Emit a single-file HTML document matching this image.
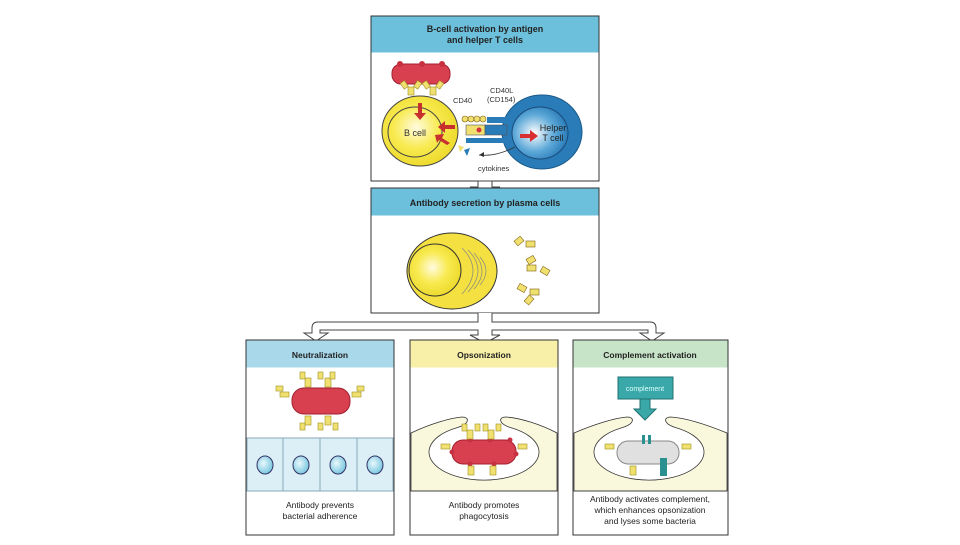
<!DOCTYPE html>
<html><head><meta charset="utf-8"><style>
body{margin:0;background:#fff;width:960px;height:540px;overflow:hidden}
svg text{font-family:"Liberation Sans",sans-serif}
</style></head><body>
<svg width="960" height="540" viewBox="0 0 960 540" xmlns="http://www.w3.org/2000/svg">
<defs>
<radialGradient id="yg" cx="0.45" cy="0.45" r="0.6"><stop offset="0" stop-color="#fffbe0"/><stop offset="0.5" stop-color="#f8ea50"/><stop offset="1" stop-color="#ecd828"/></radialGradient>
<radialGradient id="bg" cx="0.4" cy="0.5" r="0.6"><stop offset="0" stop-color="#ffffff"/><stop offset="0.6" stop-color="#5ca8d8"/><stop offset="1" stop-color="#2a7cb8"/></radialGradient>
<radialGradient id="cg" cx="0.4" cy="0.4" r="0.6"><stop offset="0" stop-color="#e8f8fc"/><stop offset="1" stop-color="#7cc8e0"/></radialGradient>
<g id="ab"><rect x="-3" y="-10" width="6" height="8" fill="#f0e070" stroke="#a09020" stroke-width="0.6"/><rect x="-9" y="-16" width="5" height="7" fill="#f0e070" stroke="#a09020" stroke-width="0.6" transform="rotate(-35 -6 -12)"/><rect x="4" y="-16" width="5" height="7" fill="#f0e070" stroke="#a09020" stroke-width="0.6" transform="rotate(35 6 -12)"/></g>
</defs>
<!-- top box -->
<rect x="371" y="16" width="228" height="165" fill="#fff" stroke="#333" stroke-width="1"/>
<rect x="371.5" y="16.5" width="227" height="36" fill="#6cc0dc"/>
<text x="485" y="32" font-size="9" font-weight="bold" text-anchor="middle" fill="#222">B-cell activation by antigen</text>
<text x="485" y="43" font-size="9" font-weight="bold" text-anchor="middle" fill="#222">and helper T cells</text>
<rect x="392" y="64" width="58" height="20" rx="9" fill="#d84050" stroke="#a02030"/>
<circle cx="400" cy="64" r="3" fill="#c83040"/><circle cx="422" cy="64" r="3" fill="#c83040"/><circle cx="442" cy="64" r="3" fill="#c83040"/>
<use href="#ab" x="411" y="97"/><use href="#ab" x="433" y="97"/>
<ellipse cx="420" cy="131" rx="38" ry="35" fill="url(#yg)" stroke="#444"/>
<ellipse cx="415" cy="132" rx="27" ry="25" fill="none" stroke="#444"/>
<text x="404" y="136" font-size="9" fill="#333">B cell</text>
<path d="M418 103 l0 10 l-4 0 l6 7 l6 -7 l-4 0 l0 -10z" fill="#c83030"/>
<path d="M455 125 l-10 0 l0 -4 l-7 6 l7 6 l0 -4 l10 0z" fill="#c83030"/>
<path d="M450 143 l-8 -5 l2 -4 l-9 1 l2 8 l2 -3 l8 5z" fill="#c83030"/>
<ellipse cx="542" cy="132" rx="40" ry="37" fill="#2a7cb8" stroke="#1a5a8a"/>
<ellipse cx="540" cy="133" rx="28" ry="26" fill="url(#bg)" stroke="#1a4a7a"/>
<text x="553" y="131" font-size="9" fill="#222" text-anchor="middle">Helper</text>
<text x="553" y="141" font-size="9" fill="#222" text-anchor="middle">T cell</text>
<path d="M520 134 h10 v-4 l8 6 l-8 6 v-4 h-10z" fill="#d83030"/>
<g fill="#f0e070" stroke="#806010" stroke-width="0.6"><circle cx="465" cy="119" r="3"/><circle cx="471" cy="119" r="3"/><circle cx="477" cy="119" r="3"/><circle cx="483" cy="119" r="3"/></g>
<rect x="487" y="117" width="20" height="6" fill="#2a7cb8"/>
<rect x="466" y="125" width="19" height="10" fill="#f0e070" stroke="#555" stroke-width="0.6"/>
<rect x="485" y="125" width="22" height="10" fill="#2a7cb8" stroke="#555" stroke-width="0.6"/>
<circle cx="479" cy="130" r="2.5" fill="#d03040"/>
<rect x="466" y="138" width="40" height="5" fill="#2a7cb8"/>
<path d="M464 150 l6 -2 l-3 8z" fill="#2a7cb8"/><path d="M458 145 l6 2 l-4 5z" fill="#f0e070"/>
<text x="453" y="103" font-size="7.5" fill="#333">CD40</text>
<text x="490" y="93" font-size="7.5" fill="#333">CD40L</text>
<text x="487" y="102" font-size="7.5" fill="#333">(CD154)</text>
<path d="M515 147 q-20 10 -36 8" fill="none" stroke="#333" stroke-width="0.8"/><path d="M479 155 l5 -3 l0 5z" fill="#333"/>
<text x="478" y="171" font-size="7.5" fill="#333">cytokines</text>
<!-- down arrow -->
<path d="M478 181 v6 h-8 l15 8 l15 -8 h-8 v-6z" fill="#fff" stroke="#444"/>
<!-- second box -->
<rect x="371" y="188" width="228" height="125" fill="#fff" stroke="#333"/>
<rect x="371.5" y="188.5" width="227" height="27" fill="#6cc0dc"/>
<text x="485" y="206" font-size="9" font-weight="bold" text-anchor="middle" fill="#222">Antibody secretion by plasma cells</text>
<ellipse cx="452" cy="271" rx="45" ry="38" fill="#f4e040" stroke="#333"/>
<ellipse cx="435" cy="270" rx="26" ry="26" fill="url(#yg)" stroke="#333"/>
<g fill="none" stroke="#888" stroke-width="0.7"><path d="M462 248 q22 22 0 46"/><path d="M468 250 q20 20 0 42"/><path d="M474 253 q16 18 0 36"/><path d="M480 257 q12 14 0 28"/></g>
<g fill="#f0e070" stroke="#806010" stroke-width="0.6">
<rect x="515" y="238" width="8" height="6" transform="rotate(-40 519 241)"/><rect x="526" y="241" width="9" height="6"/>
<rect x="527" y="257" width="8" height="6" transform="rotate(-30 531 260)"/><rect x="527" y="265" width="9" height="6"/><rect x="541" y="268" width="8" height="6" transform="rotate(30 545 271)"/>
<rect x="518" y="285" width="8" height="6" transform="rotate(30 522 288)"/><rect x="530" y="289" width="9" height="6"/><rect x="525" y="297" width="8" height="6" transform="rotate(-50 529 300)"/>
</g>
<!-- connectors -->
<path d="M478 313 v9 h-160 q-6 0 -6 6 v5 h-8 l12 8 l12 -8 h-8 v-3 h158 v5 h-8 l15 8 l15 -8 h-8 v-5 h156 v3 h-8 l12 8 l12 -8 h-8 v-5 q0 -6 -6 -6 h-158 v-9" fill="#fff" stroke="#444"/>
<!-- panels -->
<g stroke="#333">
<rect x="246" y="340" width="148" height="195" fill="#fff"/>
<rect x="410" y="340" width="148" height="195" fill="#fff"/>
<rect x="573" y="340" width="155" height="195" fill="#fff"/>
</g>
<rect x="246.5" y="340.5" width="147" height="27" fill="#a8d8ea"/>
<rect x="410.5" y="340.5" width="147" height="27" fill="#f8f0a8"/>
<rect x="573.5" y="340.5" width="154" height="27" fill="#c8e4c8"/>
<g font-size="8.5" font-weight="bold" text-anchor="middle" fill="#222">
<text x="320" y="358">Neutralization</text><text x="484" y="358">Opsonization</text><text x="650" y="358">Complement activation</text></g>
<!-- neutralization -->
<rect x="292" y="388" width="58" height="26" rx="12" fill="#d84050" stroke="#a02030"/>
<g fill="#f0e070" stroke="#a09020" stroke-width="0.6">
<rect x="305" y="378" width="6" height="9"/><rect x="325" y="378" width="6" height="9"/><rect x="300" y="372" width="5" height="7"/><rect x="318" y="372" width="5" height="7"/><rect x="330" y="372" width="5" height="7"/>
<rect x="305" y="416" width="6" height="9"/><rect x="325" y="416" width="6" height="9"/><rect x="300" y="423" width="5" height="7"/><rect x="318" y="423" width="5" height="7"/><rect x="333" y="423" width="5" height="7"/>
<rect x="280" y="392" width="9" height="5"/><rect x="276" y="386" width="7" height="5"/><rect x="352" y="392" width="9" height="5"/><rect x="357" y="386" width="7" height="5"/></g>
<g fill="#dceef6" stroke="#8ab">
<rect x="247" y="438" width="36" height="53"/><rect x="283" y="438" width="37" height="53"/><rect x="320" y="438" width="37" height="53"/><rect x="357" y="438" width="36" height="53"/></g>
<g fill="url(#cg)" stroke="#336"><ellipse cx="265" cy="465" rx="8" ry="9"/><ellipse cx="301" cy="465" rx="8" ry="9"/><ellipse cx="338" cy="465" rx="8" ry="9"/><ellipse cx="375" cy="465" rx="8" ry="9"/></g>
<!-- opsonization -->
<path d="M411 433 C430 424 450 418 462 417 C470 417 470 424 456 428 A55 28 0 1 0 512 428 C498 424 498 417 506 417 C520 418 540 424 557 433 V491 H411 Z" fill="#faf8dc" stroke="#333" stroke-width="0.8"/>
<line x1="411" y1="491" x2="557" y2="491" stroke="#333" stroke-width="0.8"/>
<rect x="452" y="440" width="64" height="24" rx="11" fill="#d84050" stroke="#a02030"/>
<g fill="#c83040"><circle cx="452" cy="452" r="2.5"/><circle cx="470" cy="440" r="2.5"/><circle cx="490" cy="440" r="2.5"/><circle cx="510" cy="440" r="2.5"/><circle cx="516" cy="454" r="2.5"/><circle cx="470" cy="464" r="2.5"/><circle cx="494" cy="464" r="2.5"/></g>
<g fill="#f0e070" stroke="#a09020" stroke-width="0.6"><rect x="467" y="430" width="6" height="9"/><rect x="488" y="430" width="6" height="9"/><rect x="462" y="424" width="5" height="7"/><rect x="475" y="424" width="5" height="7"/><rect x="483" y="424" width="5" height="7"/><rect x="496" y="424" width="5" height="7"/><rect x="468" y="466" width="6" height="9"/><rect x="490" y="466" width="6" height="9"/><rect x="441" y="444" width="9" height="5"/><rect x="518" y="444" width="9" height="5"/></g>
<!-- complement -->
<path d="M574 433 C595 424 615 418 627 417 C635 417 635 424 621 428 A55 28 0 1 0 677 428 C663 424 663 417 671 417 C685 418 705 424 727 433 V491 H574 Z" fill="#faf8dc" stroke="#333" stroke-width="0.8"/>
<line x1="574" y1="491" x2="727" y2="491" stroke="#333" stroke-width="0.8"/>
<rect x="618" y="377" width="55" height="22" fill="#3aa8a8" stroke="#207070"/>
<text x="645" y="391" font-size="7" text-anchor="middle" fill="#dff">complement</text>
<path d="M640 399 v10 h-6 l11 11 l11 -11 h-6 v-10z" fill="#3aa8a8" stroke="#207070"/>
<rect x="617" y="441" width="62" height="23" rx="11" fill="#e0e0e0" stroke="#888"/>
<rect x="660" y="458" width="7" height="18" fill="#2a9090"/>
<rect x="642" y="435" width="3" height="9" fill="#2a9090"/><rect x="648" y="435" width="3" height="9" fill="#2a9090"/>
<g fill="#f0e070" stroke="#a09020" stroke-width="0.6"><rect x="605" y="444" width="9" height="5"/><rect x="682" y="444" width="9" height="5"/><rect x="630" y="466" width="6" height="9"/></g>
<!-- captions -->
<g font-size="8.5" text-anchor="middle" fill="#222">
<text x="320" y="508">Antibody prevents</text><text x="320" y="519">bacterial adherence</text>
<text x="484" y="508">Antibody promotes</text><text x="484" y="519">phagocytosis</text>
<text x="650" y="502">Antibody activates complement,</text><text x="650" y="513">which enhances opsonization</text><text x="650" y="524">and lyses some bacteria</text></g>
</svg>
</body></html>
